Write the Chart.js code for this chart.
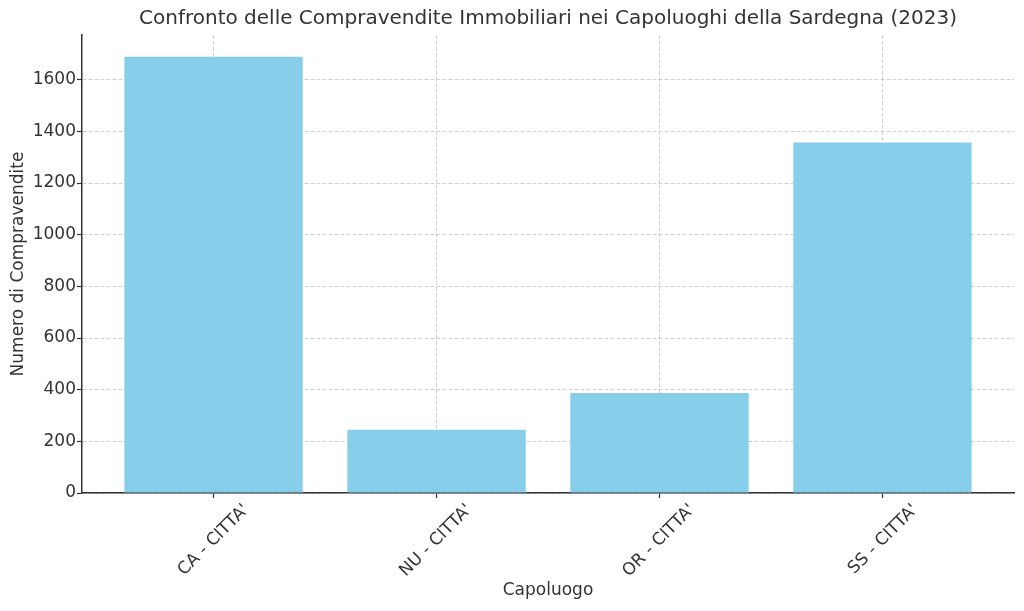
<!DOCTYPE html>
<html lang="it">
<head>
    <meta charset="UTF-8">
    <title>Compravendite Immobiliari Sardegna 2023</title>
    <script src="https://cdn.jsdelivr.net/npm/chart.js"></script>
    <style>
        body { margin: 0; background: #fff; }
        #wrap { width: 1024px; height: 611px; }
    </style>
</head>
<body>
    <div id="wrap">
        <canvas id="salesChart" width="1024" height="611"></canvas>
    </div>

    <script>
        // Data
        const categories = ["CA - CITTA'", "NU - CITTA'", "OR - CITTA'", "SS - CITTA'"];
        const sales = [1689, 245, 387, 1357];
        const yTicks = [0, 200, 400, 600, 800, 1000, 1200, 1400, 1600];

        const textColor = '#333333';
        const gridColor = 'rgba(176, 176, 176, 0.6)';
        const font = 'DejaVu Sans';

        // x as linear so the side margins match the original plot
        const points = sales.map((v, i) => ({ x: i, y: v }));

        const ctx = document.getElementById('salesChart').getContext('2d');
        new Chart(ctx, {
            type: 'bar',
            data: {
                datasets: [{
                    label: 'Compravendite',
                    data: points,
                    backgroundColor: '#87CEEB',
                    borderWidth: 0,
                    categoryPercentage: 1,
                    barPercentage: 0.8
                }]
            },
            options: {
                responsive: false,
                animation: false,
                layout: { padding: { left: 0, right: 10, top: 0, bottom: 0 } },
                plugins: {
                    legend: { display: false },
                    tooltip: { enabled: false },
                    title: {
                        display: true,
                        fullSize: false,
                        text: 'Confronto delle Compravendite Immobiliari nei Capoluoghi della Sardegna (2023)',
                        color: textColor,
                        font: { family: font, size: 20, weight: 'normal' },
                        padding: { top: 7, bottom: 4 }
                    }
                },
                scales: {
                    x: {
                        type: 'linear',
                        offset: false,
                        min: -0.59,
                        max: 3.59,
                        z: 1,
                        afterBuildTicks: (scale) => {
                            scale.ticks = categories.map((c, i) => ({ value: i }));
                        },
                        afterFit: (scale) => { scale.height = 118; },
                        grid: {
                            offset: false,
                            color: gridColor,
                            lineWidth: 1,
                            drawTicks: true,
                            tickLength: 5,
                            tickColor: textColor,
                            tickWidth: 1.2
                        },
                        border: { display: true, color: textColor, width: 1.5, dash: [4, 2] },
                        ticks: {
                            color: textColor,
                            font: { family: font, size: 17 },
                            autoSkip: false,
                            minRotation: 45,
                            maxRotation: 45,
                            padding: 2,
                            labelOffset: 33,
                            callback: (value) => categories[value]
                        },
                        title: {
                            display: true,
                            text: 'Capoluogo',
                            color: textColor,
                            font: { family: font, size: 17 },
                            padding: { top: 10, bottom: 10 }
                        }
                    },
                    y: {
                        min: 0,
                        max: 1773,
                        z: 1,
                        afterBuildTicks: (scale) => {
                            scale.ticks = yTicks.map(v => ({ value: v }));
                        },
                        afterFit: (scale) => { scale.width = 82; },
                        grid: {
                            color: gridColor,
                            lineWidth: 1,
                            drawTicks: true,
                            tickLength: 5,
                            tickColor: textColor,
                            tickWidth: 1.2
                        },
                        border: { display: true, color: textColor, width: 1.5, dash: [4, 2] },
                        ticks: {
                            color: textColor,
                            font: { family: font, size: 17 },
                            padding: 1,
                            callback: (value) => String(value)
                        },
                        title: {
                            display: true,
                            text: 'Numero di Compravendite',
                            color: textColor,
                            font: { family: font, size: 17 },
                            padding: { top: 8, bottom: 8 }
                        }
                    }
                }
            }
        });
    </script>
</body>
</html>
